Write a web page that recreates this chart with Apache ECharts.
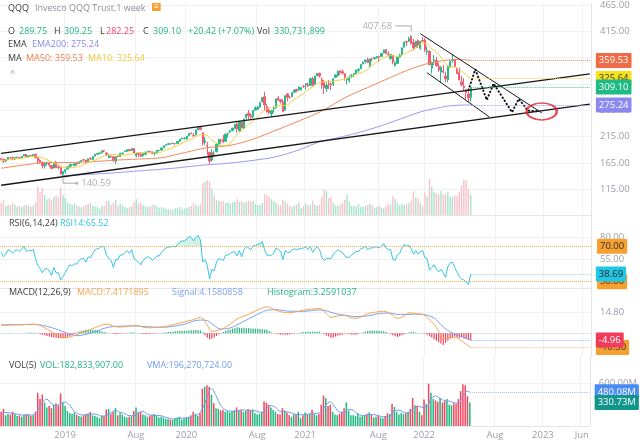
<!DOCTYPE html>
<html><head><meta charset="utf-8">
<script src="https://cdn.jsdelivr.net/npm/echarts@6/dist/echarts.min.js"></script>
<style>html,body{margin:0;padding:0;background:#fff}#c{width:640px;height:442px}</style>
</head><body><div id="c"></div>
<script>
// ---------- data ----------
const startWeek = '2018-06-18';
const slotCount = 258;
const tickDates = ['2018-12-31','2019-08-05','2020-01-06','2020-08-10','2021-01-04','2021-08-16','2022-01-03','2022-08-08','2023-01-02','2023-05-01'];
const tickLabels = ['2019','Aug','2020','Aug','2021','Aug','2022','Aug','2023','Jun'];
const priceTicks = [115,165,215,265,315,365,415,465];
const rsiTicks = [55,80];
const macdTicks = [14.8];
const volTicks = [600];

// weekly [open, close, low, high]
const candles = [
[173.0,172.2,170.3,174.7],[172.0,168.2,165.0,172.5],[168.5,171.1,167.0,171.9],[171.3,175.4,170.8,175.8],[175.2,174.9,173.5,176.1],
[175.0,172.7,170.5,177.0],[172.5,175.4,170.2,175.8],[175.3,175.8,174.3,177.0],[175.5,175.0,172.4,176.2],[175.3,178.0,174.8,178.3],
[178.3,181.5,178.0,182.3],[181.3,177.0,176.0,181.6],[177.0,179.0,175.6,179.5],[179.2,179.0,177.8,180.5],[179.0,181.3,178.2,181.7],
[181.6,175.5,173.8,183.0],[175.0,169.5,163.0,176.0],[170.5,166.2,163.8,172.0],[166.0,159.7,154.5,168.0],[160.0,163.5,155.0,166.0],
[163.8,164.6,160.2,167.6],[164.0,161.1,157.5,165.5],[160.0,154.8,154.0,161.5],[155.5,163.9,155.0,164.5],[166.5,156.2,155.2,168.6],
[157.5,156.6,153.0,160.8],[156.0,144.1,143.3,157.3],[143.8,148.5,140.59,149.7],[149.0,152.6,145.0,153.8],[153.5,158.0,152.2,159.5],
[157.2,162.6,155.5,163.4],[161.5,161.8,158.9,163.0],[160.5,163.4,158.6,164.6],[164.0,163.5,160.0,166.0],[164.0,167.4,163.1,168.0],
[167.8,169.9,166.8,170.2],[171.0,170.8,168.6,172.1],[170.5,166.8,164.2,171.0],[167.8,172.9,167.3,173.4],[173.3,172.4,171.5,176.0],
[172.0,177.0,170.6,177.8],[178.0,181.5,177.8,181.8],[181.7,182.6,180.5,183.2],[182.7,184.1,182.2,184.6],[184.3,188.3,183.3,188.6],
[188.6,187.7,185.7,189.9],[183.7,181.4,178.4,185.7],[175.5,178.7,174.0,181.2],[177.5,176.9,174.8,179.0],[176.7,168.7,168.5,178.5],
[168.0,176.9,163.1,177.3],[177.5,177.0,176.0,179.5],[177.2,183.3,176.5,184.2],[183.1,183.9,180.5,184.5],[187.0,187.9,185.8,188.5],
[187.0,190.3,186.7,190.8],[190.6,188.1,187.5,191.3],[188.7,192.4,188.0,192.7],[192.5,183.7,182.7,193.8],[179.0,182.6,175.6,184.5],
[182.5,180.9,176.6,185.2],[181.5,177.7,176.5,184.0],[179.0,182.8,176.8,183.3],[181.5,185.7,179.9,186.0],[186.0,187.2,185.2,187.8],
[187.0,186.2,185.4,188.3],[186.0,183.3,181.3,187.0],[183.5,185.2,178.8,186.0],[183.9,188.7,182.2,189.8],[188.7,189.0,187.3,190.4],
[189.5,193.6,189.0,194.0],[194.0,197.6,193.5,197.8],[198.2,199.8,197.6,200.0],[200.0,201.8,199.5,202.0],[201.8,201.7,200.1,202.6],
[202.0,202.7,201.5,204.2],[202.0,202.0,198.5,203.0],[202.3,206.0,201.2,207.0],[206.3,210.3,205.5,210.5],[210.6,212.0,210.4,213.2],
[211.5,212.0,209.5,214.0],[210.6,216.0,210.2,216.4],[216.8,221.4,216.0,221.6],[221.2,220.7,219.2,223.1],[217.0,216.9,214.6,222.0],
[218.5,227.9,217.5,228.6],[228.0,232.5,227.8,232.9],[233.0,228.3,227.8,235.3],[222.5,203.4,198.2,223.0],[204.5,206.9,199.0,214.5],
[198.0,196.8,180.0,205.0],[185.0,169.0,163.3,186.5],[170.5,184.6,167.5,191.2],[182.0,180.9,176.5,187.5],[186.5,200.1,185.0,202.3],
[199.3,209.5,198.0,211.3],[208.0,207.5,202.0,211.0],[209.5,205.6,203.0,218.3],[206.0,219.9,205.8,220.2],[220.5,220.9,213.5,223.0],
[224.0,226.0,222.0,228.2],[226.8,231.3,225.0,231.6],[230.5,238.4,230.0,239.0],[239.0,229.5,222.5,242.5],[226.0,243.2,225.0,244.0],
[242.5,231.4,230.8,245.5],[232.0,248.4,230.5,249.2],[251.5,257.6,248.0,258.0],[259.5,254.9,248.5,265.7],[255.0,252.5,249.0,259.5],
[253.0,265.2,250.0,265.3],[265.5,270.0,265.5,272.5],[267.0,270.7,266.0,272.7],[271.5,279.9,269.6,280.8],[281.5,289.3,280.0,289.5],
[291.0,275.5,264.0,300.5],[272.0,262.0,261.0,277.5],[265.5,260.7,257.5,270.0],[258.0,264.2,253.0,265.0],[267.5,268.0,260.5,273.0],
[270.0,286.7,268.5,287.0],[288.5,284.1,283.5,292.0],[285.0,281.9,278.0,286.0],[281.0,262.5,262.0,286.5],[265.5,292.8,264.0,293.5],
[296.5,289.7,282.0,297.0],[289.5,289.3,287.5,293.0],[291.0,299.1,290.0,299.3],[299.5,303.8,299.0,304.0],[304.5,302.0,299.5,306.0],
[304.0,309.1,302.5,310.5],[304.5,307.9,302.5,309.0],[311.0,310.6,307.5,312.5],[313.0,315.6,304.5,316.0],[313.5,311.5,309.0,318.0],
[312.5,325.3,311.5,327.0],[325.5,312.0,310.5,329.0],[315.0,330.2,314.0,330.5],[331.0,335.0,329.5,335.5],[335.5,330.4,327.0,336.5],
[323.0,312.5,306.0,327.5],[318.0,308.4,296.0,323.0],[306.0,313.0,300.0,318.0],[315.0,314.0,305.5,322.5],[315.0,313.0,303.5,318.0],
[314.5,325.0,311.0,325.5],[327.5,332.3,327.0,333.0],[331.0,339.7,329.0,340.5],[340.0,336.9,331.5,340.5],[338.5,335.5,333.0,342.5],
[334.5,328.0,321.5,335.0],[323.5,325.3,314.5,327.0],[321.5,327.8,317.5,331.0],[330.0,331.8,326.5,333.5],[333.0,335.2,328.0,335.5],
[335.5,341.7,333.5,342.0],[341.0,342.7,336.5,345.0],[344.0,352.2,343.5,352.7],[353.0,356.8,352.5,357.0],[357.5,360.5,353.5,361.5],
[362.0,355.3,355.0,365.0],[350.0,362.7,346.5,363.0],[363.0,362.8,358.0,365.0],[363.5,365.2,361.0,366.5],[365.5,367.3,363.0,368.0],
[367.0,365.8,356.5,367.5],[367.5,373.1,366.5,373.5],[374.0,379.8,373.5,380.5],[380.5,372.6,372.0,381.5],[372.5,370.9,368.0,377.0],
[363.0,370.7,361.0,372.5],[369.5,356.8,352.5,370.0],[350.0,355.3,348.0,358.0],[354.0,365.9,353.5,366.5],[366.0,370.3,365.5,372.5],
[371.5,383.7,370.0,384.0],[385.0,394.4,384.5,396.0],[395.5,394.6,387.5,397.5],[396.0,401.4,394.5,405.0],[405.5,392.1,390.0,407.68],
[394.0,383.5,379.0,400.5],[386.0,396.4,385.0,397.0],[398.0,388.5,383.0,399.5],[383.0,396.0,380.0,396.5],[397.5,396.0,395.0,404.0],
[398.3,380.0,375.5,402.0],[376.0,378.1,370.2,386.5],[377.0,351.7,350.5,379.0],[345.0,356.1,335.0,357.5],[359.0,361.2,351.0,370.0],
[360.0,349.6,348.0,366.5],[348.0,341.5,338.0,354.5],[338.0,346.8,317.5,349.0],[340.0,337.3,335.0,351.0],[330.0,324.8,318.5,338.5],
[323.0,349.4,318.0,350.0],[347.0,357.8,346.0,359.5],[359.0,361.5,356.0,371.5],[361.0,347.8,346.5,362.5],[342.0,335.0,334.0,347.0],
[337.0,322.6,322.0,346.0],[319.0,313.6,310.5,330.0],[311.0,308.0,301.5,326.0],[304.0,298.7,285.0,306.0],[296.0,288.4,280.3,306.5],
[289.75,309.10,282.25,309.25]
];

// weekly volume, millions
const volume = [
200,240,150,170,160,200,170,140,150,130,160,170,160,140,150,200,467,380,443,330,260,280,250,300,320,290,457,330,
280,210,180,170,190,160,140,130,150,170,180,200,150,140,130,110,150,140,230,240,170,200,250,150,190,160,130,120,130,140,210,260,
190,200,160,150,130,140,160,170,140,120,130,120,100,100,90,85,110,120,130,90,
110,120,130,150,200,170,140,180,524,552,571,552,440,320,250,240,220,230,200,210,190,210,220,260,220,230,200,210,240,220,
230,180,160,170,200,348,324,300,260,230,200,170,160,250,220,190,150,130,160,170,200,110,150,
190,160,170,230,170,150,170,300,428,395,280,300,200,160,150,170,200,250,333,220,150,150,140,180,130,140,150,170,190,160,
120,130,150,120,110,140,180,170,314,267,200,160,180,170,180,200,240,395,290,280,200,150,
371,310,595,467,380,360,340,395,330,350,380,300,290,320,310,380,490,586,571,420,330.73
];

// moving averages: [weekIndex, value]
const ma10 = [[0,169],[2,170.5],[4,172],[6,173.3],[8,173.4],[10,174.8],[12,176.5],[14,177.5],[16,177.2],[18,174.7],[20,171.5],[22,167.5],[24,163.5],[26,159.1],[28,156.6],[30,155.8],[32,156.8],[34,157.9],[36,161.9],[38,165.7],[40,168.6],[42,172.5],[44,176.6],[46,179.5],[48,181.1],[50,180.7],[52,180.3],[54,180.2],[56,181.2],[58,183.2],[60,185.0],[62,185.0],[64,185.1],[66,184.3],[68,184.0],[70,185.9],[72,189.6],[74,192.7],[76,196.2],[78,200.5],[80,204.6],[82,208.6],[84,212.0],[86,217.6],[88,219.1],[90,217.1],[92,208.7],[94,203.0],[96,198.7],[98,198.1],[100,202.4],[102,214.0],[104,223.2],[106,229.5],[108,238.2],[110,245.2],[112,252.3],[114,262.0],[116,267.8],[118,269.0],[120,272.7],[122,275.2],[124,273.8],[126,278.0],[128,285.8],[130,291.4],[132,296.7],[134,303.9],[136,309.7],[138,315.9],[140,319.1],[142,319.4],[144,319.4],[146,321.4],[148,322.5],[150,324.6],[152,327.8],[154,331.8],[156,334.5],[158,337.7],[160,342.9],[162,350.2],[164,356.7],[166,362.2],[168,366.5],[170,369.1],[172,367.8],[174,368.1],[176,372.0],[178,376.4],[180,379.8],[182,387.1],[184,392.7],[186,390.7],[188,381.8],[190,375.4],[192,365.7],[194,352.7],[196,347.6],[198,347.8],[200,342.5],[202,335.8],[204,328.3],[205,325.64]];
const ma50 = [[0,155.0],[10,161.2],[20,165.8],[30,166.0],[40,167.6],[50,170.5],[60,172.5],[70,175.2],[80,184.6],[90,194.1],[100,198.6],[110,210.5],[120,227.3],[130,244.8],[140,263.8],[150,288.7],[160,308.3],[170,327.4],[180,345.4],[190,357.3],[200,361.5],[205,359.53]];
const ema200 = [[27,141],[45,145],[60,150],[75,155],[86,160],[100,165],[110,170],[120,177],[130,190],[139,205],[150,216],[161,229],[172,245],[183,262],[190,269],[197,274],[205,275.24]];

const rsi = [63,58,61,66,65,62,65,66,64,67,70,
64,65,65,66,56,48,45,40,44,45,
42,37,46,40,40,32,36,40,45,49,
48,50,50,54,56,56,52,58,57,62,
66,67,68,70,69,60,56,54,46,55,
55,60,60,63,65,62,66,56,54,52,
49,54,57,58,57,54,56,59,59,63,
66,68,69,69,70,69,72,75,76,76,
78,81,80,76,80,82,77,52,55,48,
33,44,42,52,56,55,54,60,60,62,
63,64,59,65,58,66,70,68,66,70,
71,72,73,75,66,60,59,60,62,68,
66,64,55,65,63,63,66,67,66,67,
67,68,69,66,70,63,67,69,66,57,
54,56,56,56,61,64,66,64,63,59,
57,58,60,62,64,64,67,68,70,66,
68,68,69,69,68,70,73,68,66,66,
55,54,60,62,68,72,70,71,67,61,
65,61,64,65,57,56,43,46,49,44,
41,44,40,35,47,51,52,46,41,36,
33,32,29,27,38.69];

const macd = [[0,5.7],[8,6.0],[15,6.5],[19,3.9],[23,0.1],[28,-3.2],[33,-1.1],[37,1.5],[41,3.9],[46,6.5],[51,4.4],[55,4.8],[58,5.7],[64,3.9],[71,4.7],[76,6.5],[80,8.2],[84,9.8],[87,11.5],[90,5.7],[92,1.4],[96,2.7],[100,6.5],[103,10.3],[107,13.0],[110,15.3],[113,17.5],[116,19.1],[120,16.5],[125,14.8],[129,15.5],[132,16.6],[136,17.5],[139,17.8],[142,14.0],[144,11.5],[147,12.5],[150,12.8],[153,11.0],[155,10.8],[158,12.5],[160,14.1],[164,15.3],[167,15.8],[170,14.0],[173,10.8],[176,12.5],[178,14.6],[182,14.0],[185,12.8],[187,9.5],[189,6.5],[191,1.5],[193,-4.0],[195,-3.5],[198,-3.0],[201,-5.5],[203,-8.0],[205,-10.3]];
const signal = [[0,6.0],[10,6.2],[15,6.2],[22,4.0],[28,0.5],[33,-1.8],[38,-0.5],[42,1.5],[46,4.0],[51,5.0],[58,5.2],[64,4.6],[71,4.3],[76,5.2],[80,6.5],[87,9.5],[90,9.0],[93,5.5],[96,3.0],[100,3.8],[103,6.0],[107,9.5],[110,12.0],[113,14.5],[116,16.5],[120,17.0],[125,16.0],[132,15.8],[139,16.8],[142,16.2],[144,15.0],[147,13.8],[150,13.0],[155,12.0],[160,12.5],[167,14.5],[170,14.5],[173,13.5],[178,13.5],[182,13.8],[185,13.3],[189,11.0],[191,8.0],[193,4.5],[196,1.0],[198,-0.5],[201,-2.5],[203,-3.8],[205,-4.96]];
const hist = [0,-0.2,-0.1,0.1,0.2,0.1,0,0.1,-0.1,0,0.2,0.3,0.3,0.4,0.3,
0.3,-0.3,-0.8,-1.2,-1.6,-2.0,-2.4,-2.8,-3.2,-3.4,-3.5,-3.7,-3.6,-3.3,-2.7,-2.0,
-1.4,-0.8,0.4,1.0,1.5,1.9,2.2,2.4,2.5,2.5,2.4,2.2,1.8,1.2,0.8,
0.5,0.2,-0.2,-0.6,-0.8,-0.6,-0.4,-0.3,-0.1,0.1,0.3,
0.4,0.5,0.2,-0.1,-0.4,-0.6,-0.7,-0.7,-0.6,-0.5,-0.4,-0.2,0,0.2,
0.4,0.6,0.8,1.0,1.1,1.3,1.5,1.6,1.7,1.7,1.8,2.0,2.1,2.1,2.2,2.1,2.0,
0.6,-1.5,-3.3,-4.5,-4.1,-3.2,-2.0,-1.0,-0.3,
0.8,1.6,2.2,2.7,3.2,3.6,4.2,4.0,3.8,3.9,3.5,3.6,3.4,3.3,3.2,3.1,3.0,2.8,2.6,2.5,
1.5,0.5,-0.2,-0.5,-0.8,-1.0,-1.2,-1.2,-1.2,-1.0,-0.7,-0.4,-0.2,0.2,
0.5,0.8,1.0,1.0,0.9,1.0,1.1,1.0,1.0,0.2,
-0.8,-1.8,-2.5,-3.5,-3.2,-2.5,-1.8,-1.5,-1.0,-0.4,-0.5,-0.7,-1.0,-1.1,-1.2,
-0.5,0,0.4,1.0,1.6,1.8,1.9,1.8,1.7,1.5,1.4,1.3,0.8,0.2,-0.5,
-1.5,-2.3,-2.7,-2.2,-1.5,-0.8,-0.2,0.5,1.0,0.8,0.5,0.2,0,-0.3,
-0.5,-1.2,-2.3,-3.4,-4.5,-5.5,-6.5,-7.5,-8.5,-7.0,-5.5,-4.0,-3.0,-2.5,-3.0,-3.5,-3.0,-3.8,-4.2,-4.8,-5.34];
const vma5 = [[0,190],[2,190],[4,184],[6,170],[8,164],[10,150],[12,154],[14,156],[16,223],[18,328],[20,376],[22,313],[24,282],[26,323],[28,335],[30,291],[32,206],[34,168],[36,154],[38,154],[40,170],[42,160],[44,136],[46,152],[48,186],[50,218],[52,192],[54,176],[56,146],[58,146],[60,186],[62,204],[64,166],[66,148],[68,148],[70,144],[72,122],[74,108],[76,97],[78,107],[80,112],[82,116],[84,142],[86,158],[88,243],[90,393],[92,528],[94,427],[96,294],[98,228],[100,210],[102,206],[104,220],[106,226],[108,220],[110,220],[112,206],[114,188],[116,240],[118,286],[120,263],[122,204],[124,200],[126,194],[128,170],[130,162],[132,158],[134,162],[136,180],[138,176],[140,204],[142,289],[144,341],[146,267],[148,196],[150,186],[152,235],[154,221],[156,168],[158,148],[160,154],[162,162],[164,154],[166,136],[168,130],[170,144],[172,214],[174,222],[176,195],[178,178],[180,237],[182,281],[184,263],[186,262],[188,379],[190,422],[192,388],[194,355],[196,351],[198,328],[200,320],[202,417],[204,489],[205,480.08]];

// hand-drawn annotations (data coordinates: [weekIndex, price])
const upperChannel = [[0,183.3],[257,334.3]];
const lowerChannel = [[0,122.8],[257,276.8]];
const fallingTop = [[183,410.5],[236,260.1]];
const fallingBottom = [[186,336.3],[213,252.8]];
const projectedPath = [[204,303.6],[207,342.9],[212,284.8],[215,315.9],[223,261.6],[226,286.7],[230,264.2],[235,262.9]];
const targetCircle = [[236,263]];
const highMarker = [[179,415.2],[179,425.3],[172,425.3]];
const lowMarker = [[27,138.0],[27,126.7],[33,126.7]];
const lastValues = {close:309.10, ma50:359.53, ma10:325.64, ema200:275.24, rsi:38.69, macd:-10.30, signal:-4.96, vma:480.08, vol:330.73};

// ---------- build ----------
const FONT = "'Open Sans', sans-serif";
const DARK = '#3a3a3a', GRAY = '#8e9099', AX = '#9a9ea7';
const UP = '#26b98a', DOWN = '#f45a70';
const categories = [];
(function(){ const t0 = Date.parse(startWeek + 'T00:00:00Z');
  for (let k = 0; k < slotCount; k++) categories.push(new Date(t0 + k*7*86400000).toISOString().slice(0,10)); })();
const tickText = {};
tickDates.forEach((d,k) => { const ix = categories.findIndex(c => c >= d); if (ix >= 0) tickText[ix] = tickLabels[k]; });
const isTick = i => tickText[i] !== undefined;
const last = candles.length - 1, lastSlot = slotCount - 1;

const xAx = (gi, show) => ({
  type:'category', gridIndex:gi, data:categories, boundaryGap:true,
  axisLine:{show:true, lineStyle:{color:'#e3e5eb'}}, axisTick:{show:false},
  axisLabel: show ? {show:true, interval:(i)=>isTick(i), formatter:(v,i)=>tickText[i]||'', color:AX, fontSize:9.5, fontFamily:FONT, margin:4} : {show:false},
  splitLine:{show:true, interval:(i)=>isTick(i), lineStyle:{color:'#f0f1f5'}}
});
const yAx = (gi, min, max, ticks, fmt) => ({
  type:'value', gridIndex:gi, position:'right', min, max,
  axisLine:{show:true, lineStyle:{color:'#e3e5eb'}},
  axisTick:{show:false, customValues:ticks},
  axisLabel:{customValues:ticks, formatter:fmt, color:AX, fontSize:9.5, fontFamily:FONT, margin:9},
  splitLine:{show:true, lineStyle:{color:'#f0f1f5'}}
});
const box = (y, text, bg, fg, lineColor, fromIdx) => {
  const lab = {show:true, position:'end', formatter:text, backgroundColor:bg, color:fg, padding:[3,3,2,3], fontSize:9.5, fontFamily:FONT, distance:6, borderRadius:1};
  const ls = {color:lineColor, type:'dotted', width:1};
  if (fromIdx === null) return {yAxis:y, lineStyle:ls, label:lab};
  return [{coord:[fromIdx, y], lineStyle:ls, label:lab}, {coord:[lastSlot, y]}];
};
const holder = (xi, yi, items) => ({type:'line', xAxisIndex:xi, yAxisIndex:yi, data:[], clip:false, silent:true,
  markLine:{symbol:['none','none'], silent:true, animation:false, data:items}});
const plainLine = (xi, yi, data, color, width, extra) => Object.assign({type:'line', xAxisIndex:xi, yAxisIndex:yi, data, symbol:'none', silent:true,
  lineStyle:{color, width}}, extra||{});
const tag = (point, text, pos, dot) => ({type:'scatter', xAxisIndex:0, yAxisIndex:0, silent:true, z:6,
  data:[point], symbol:'circle', symbolSize: dot ? 3 : 0.1, itemStyle:{color:'#a8a8a8'},
  label:{show:true, position:pos, distance:3, formatter:text, color:'#9a9a9a', fontSize:9.5, fontFamily:FONT}});

const T = (text, x, y, color, ex) => Object.assign({text, left:x, top:y, padding:0,
  textStyle:{fontSize:9, color, fontFamily:FONT, fontWeight:'normal'}}, ex||{});
const GREEN_T = '#22b57f', RED_T = '#f2465f';
const titles = [
  T('QQQ',8,4,DARK), T('Invesco QQQ Trust,1 week',35,4,GRAY),
  T('≡',152,3,'#fff',{backgroundColor:'#f5a031', padding:[0,2], textStyle:{fontSize:8,color:'#fff',fontFamily:FONT}}),
  T('O',8,26.5,DARK), T('289.75',19,26.5,GREEN_T), T('H',54,26.5,DARK), T('309.25',64,26.5,GREEN_T),
  T('L',100,26.5,DARK), T('282.25',106,26.5,RED_T), T('C',143,26.5,DARK), T('309.10',153,26.5,GREEN_T),
  T('+20.42 (+7.07%)',188,26.5,GREEN_T), T('Vol',257,26.5,DARK), T('330,731,899',274,26.5,GREEN_T),
  T('EMA',8,40,DARK), T('EMA200: 275.24',32,40,'#8b8cf0'),
  T('MA',8,53.5,DARK), T('MA50: 359.53',26,53.5,'#f08050'), T('MA10: 325.64',88,53.5,'#f0c83a'),
  T('^',10,69,'#9a9a9a'),
  T('RSI(6,14,24)',9,219,DARK), T('RSI14:65.52',60,219,'#2fc4e4'),
  T('MACD(12,26,9)',9,288,DARK), T('MACD:7.4171895',77,288,'#f5a34a'), T('Signal:4.1580858',172,288,'#7b9ef2'), T('Histogram:3.2591037',267,288,GREEN_T),
  T('VOL(5)',9,361,DARK), T('VOL:182,833,907.00',40,361,GREEN_T), T('VMA:196,270,724.00',147,361,'#6f9cf0')
];

const isUp = i => candles[i][1] >= candles[i][0];
const option = {
  animation:false,
  backgroundColor:'#ffffff',
  title: titles,
  grid:[
    {left:0, right:49, top:0, height:215},
    {left:0, right:49, top:215, height:73},
    {left:0, right:49, top:288, height:69},
    {left:0, right:49, top:357, height:69}
  ],
  xAxis:[xAx(0,false), xAx(1,false), xAx(2,false), xAx(3,true)],
  yAxis:[
    yAx(0, 66.3, 468.9, priceTicks, v=>v.toFixed(2)),
    {type:'value', gridIndex:0, min:0, max:3500, show:false, splitLine:{show:false}},
    yAx(1, 22.9, 105.1, rsiTicks, v=>v.toFixed(2)),
    yAx(2, -17.25, 32.67, macdTicks, v=>v.toFixed(2)),
    yAx(3, 0, 969.5, volTicks, v=>v.toFixed(2)+'M')
  ],
  series:[
    {type:'bar', xAxisIndex:0, yAxisIndex:1, barWidth:1.4, silent:true,
     data: volume.map((v,i)=>({value:v, itemStyle:{color: isUp(i) ? '#a9e3cd' : '#f9c1ca'}}))},
    {type:'candlestick', xAxisIndex:0, yAxisIndex:0, barWidth:1.8, silent:true, data:candles,
     itemStyle:{color:UP, color0:DOWN, borderColor:UP, borderColor0:DOWN, borderWidth:1}},
    plainLine(0,0,ema200,'#9d9bf4',1,{smooth:0.4}),
    plainLine(0,0,ma50,'#f2895a',1,{smooth:0.4}),
    plainLine(0,0,ma10,'#f3d03c',1,{smooth:0.3}),
    plainLine(0,0,upperChannel,'#161616',1.3),
    plainLine(0,0,lowerChannel,'#161616',1.3),
    plainLine(0,0,fallingTop,'#161616',1),
    plainLine(0,0,fallingBottom,'#161616',1),
    plainLine(0,0,projectedPath,'#111',2,{lineStyle:{color:'#111', width:2, type:[0.5,3.2], cap:'round'}, z:4}),
    {type:'scatter', xAxisIndex:0, yAxisIndex:0, data:targetCircle, symbol:'circle', symbolSize:[30,17], silent:true, z:5,
     itemStyle:{color:'rgba(0,0,0,0)', borderColor:'#e3202b', borderWidth:2}},
    plainLine(0,0,highMarker,'#a8a8a8',1),
    plainLine(0,0,lowMarker,'#a8a8a8',1),
    tag(highMarker[2],'407.68','left',false),
    tag(lowMarker[2],'140.59','right',true),
    holder(0,0,[
      box(lastValues.ma10,'325.64','#f6e21c','#333','#f3d03c',last),
      box(lastValues.ma50,'359.53','#ef6a46','#fff','#f2895a',last),
      box(lastValues.ema200,'275.24','#8b89ef','#fff','#9d9bf4',last),
      box(lastValues.close,'309.10','#1fbb86','#fff','#48c99b',last)
    ]),
    // RSI
    {type:'line', xAxisIndex:1, yAxisIndex:2, stack:'ob', symbol:'none', silent:true, lineStyle:{opacity:0}, data: rsi.map(()=>70)},
    {type:'line', xAxisIndex:1, yAxisIndex:2, stack:'ob', symbol:'none', silent:true, lineStyle:{opacity:0},
     areaStyle:{color:'#d3f1e7', opacity:1}, data: rsi.map(v=>Math.max(v,70)-70)},
    plainLine(1,2,rsi,'#34c6e6',1),
    holder(1,2,[
      box(70,'70.00','#f5a031','#333','#f5b04a',null),
      box(30,'30.00','#f5a031','#333','#f5b04a',null),
      box(lastValues.rsi,'38.69','#1ec8e6','#222','#8fdcec',last)
    ]),
    // MACD
    {type:'bar', xAxisIndex:2, yAxisIndex:3, barWidth:1.2, silent:true,
     data: hist.map(v=>({value:v, itemStyle:{color: v>=0 ? '#25b37f' : '#f0435e'}}))},
    plainLine(2,3,signal,'#7ea0f2',1,{smooth:0.4}),
    plainLine(2,3,macd,'#f6a54c',1,{smooth:0.4}),
    holder(2,3,[
      box(lastValues.macd,'-10.30','#f5a031','#333','#f5c27a',last),
      box(lastValues.signal,'-4.96','#f23b5a','#fff','#9db7f5',last)
    ]),
    // VOL
    {type:'bar', xAxisIndex:3, yAxisIndex:4, barWidth:1.5, silent:true,
     data: volume.map((v,i)=>({value:v, itemStyle:{color: isUp(i) ? '#1fb77f' : '#f4455f'}}))},
    plainLine(3,4,vma5,'#6f9cf0',1,{smooth:0.4}),
    holder(3,4,[
      box(lastValues.vma,'480.08M','#4a8cf6','#fff','#9dbcf6',last),
      box(lastValues.vol,'330.73M','#12968c','#fff','rgba(0,0,0,0)',last)
    ])
  ]
};
const chart = echarts.init(document.getElementById('c'), null, {renderer:'canvas'});
chart.setOption(option);
</script>
</body></html>
